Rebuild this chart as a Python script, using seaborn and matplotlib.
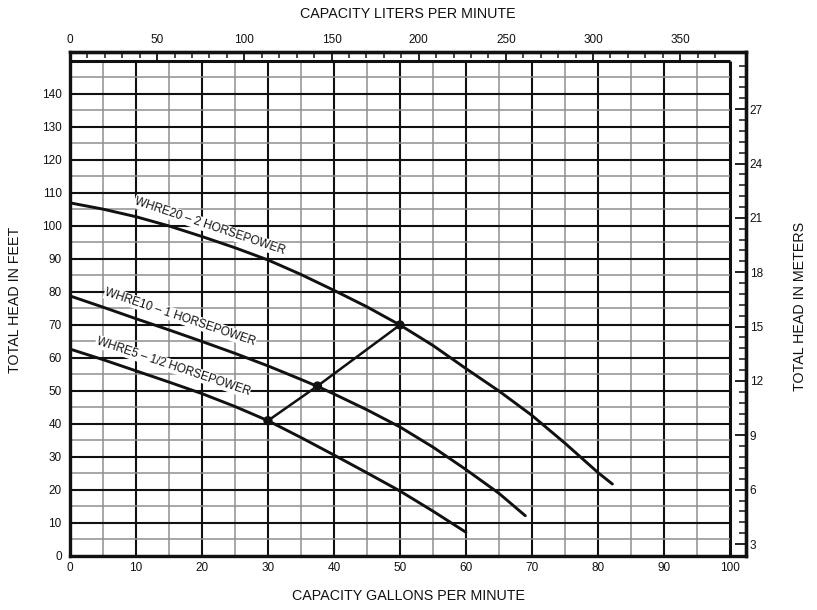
import numpy as np
import pandas as pd
import seaborn as sns
import matplotlib
matplotlib.use("Agg")
import matplotlib.pyplot as plt
from matplotlib.ticker import FixedLocator

sns.set_theme(style="white")
plt.rcParams['font.family'] = ['Liberation Sans', 'DejaVu Sans']

# ---- data ----
whre20_gpm = [0, 5, 10, 15, 20, 25, 30, 35, 40, 45, 50, 55, 60, 65, 70, 75, 80, 82.2]
whre20_head = [107, 105.1, 102.8, 100, 96.8, 93.4, 89.7, 85.3, 80.5, 75.5, 70, 63.8, 56.8, 50, 42.6, 34.2, 25.3, 21.8]
whre10_gpm = [0, 5, 10, 15, 20, 25, 30, 35, 37.5, 40, 45, 50, 55, 60, 65, 69]
whre10_head = [78.8, 75.4, 71.9, 68.5, 65, 61.4, 57.6, 53.5, 51.4, 49.1, 44.3, 39.1, 33.0, 26.2, 19.0, 12.2]
whre5_gpm = [0, 5, 10, 15, 20, 25, 30, 35, 40, 45, 50, 55, 60]
whre5_head = [62.7, 59.5, 56.1, 52.7, 49.2, 45.3, 41, 35.9, 30.6, 25.2, 19.7, 13.6, 7.2]
op_gpm = [30, 37.5, 50]
op_head = [41, 51.5, 70]
curve_labels = ["WHRE20 – 2 HORSEPOWER", "WHRE10 – 1 HORSEPOWER", "WHRE5 – 1/2 HORSEPOWER"]
x_ticks = list(range(0, 101, 10))
y_ticks = list(range(0, 141, 10))
lpm_ticks = list(range(0, 351, 50))
m_ticks = list(range(3, 28, 3))

df = pd.concat([
    pd.DataFrame({"gpm": whre20_gpm, "head": whre20_head, "model": "WHRE20"}),
    pd.DataFrame({"gpm": whre10_gpm, "head": whre10_head, "model": "WHRE10"}),
    pd.DataFrame({"gpm": whre5_gpm, "head": whre5_head, "model": "WHRE5"}),
])
op = pd.DataFrame({"gpm": op_gpm, "head": op_head})

W, H = 817, 610
fig = plt.figure(figsize=(W / 100, H / 100), dpi=100)
left_px, right_px, top_px, bot_px = 70, 745.7, 51.7, 556
ax = fig.add_axes([left_px / W, (H - bot_px) / H, (right_px - left_px) / W, (bot_px - top_px) / H])
ax.set_xlim(0, 102.4)
ax.set_ylim(0, 152.8)

# grid
for v in range(0, 101, 5):
    heavy = v % 10 == 0
    ax.vlines(v, 0, 150, color="#111111" if heavy else "#8f8f8f",
              lw=(2.2 if v == 100 else 1.5) if heavy else 1.1, zorder=1)
for h in range(0, 151, 5):
    heavy = h % 10 == 0
    ax.hlines(h, 0, 100, color="#111111" if heavy else "#8f8f8f",
              lw=(2.2 if h == 150 else 1.5) if heavy else 1.1, zorder=1)

# curves
sns.lineplot(data=df, x="gpm", y="head", units="model", estimator=None, sort=False,
             color="#111111", lw=2.1, ax=ax, zorder=3)
sns.lineplot(data=op, x="gpm", y="head", estimator=None, sort=False,
             color="#111111", lw=1.8, ax=ax, zorder=3)
sns.scatterplot(data=op, x="gpm", y="head", color="#111111", s=45, ax=ax, zorder=4, edgecolor="none")

label_pos = [(21.2, 99.9), (16.7, 72.4), (15.6, 57.4)]
for txt, (lx, ly) in zip(curve_labels, label_pos):
    ax.text(lx, ly, txt, rotation=-18.5, rotation_mode="anchor", ha="center", va="center",
            fontsize=8.5, color="#111111", zorder=5,
            bbox=dict(facecolor="white", edgecolor="none", pad=0.5))

# main axes ticks
ax.set_xticks(x_ticks)
ax.set_yticks(y_ticks)
ax.tick_params(axis="both", length=0, labelsize=8.5, colors="#111111")
ax.tick_params(axis="x", pad=4)
ax.tick_params(axis="y", pad=6)
ax.set_xlabel("")
ax.set_ylabel("")
for s in ax.spines.values():
    s.set_visible(True)
    s.set_color("#111111")
    s.set_linewidth(2.4)

# top liters axis
top = ax.secondary_xaxis("top", functions=(lambda g: g * 3.785, lambda l: l / 3.785))
top.xaxis.set_major_locator(FixedLocator(lpm_ticks))
top.xaxis.set_minor_locator(FixedLocator([v for v in range(10, 371, 10) if v % 50 != 0]))
top.tick_params(axis="x", which="major", direction="in", length=7, width=1.3, labelsize=8.5, pad=4, colors="#111111")
top.tick_params(axis="x", which="minor", direction="in", length=4, width=1.2)
top.spines["top"].set_linewidth(2.4)

# right meters axis (scale as printed on the chart)
def ft2m(f):
    return 3 + (np.asarray(f) - 3.63) / 5.49

def m2ft(m):
    return 3.63 + (np.asarray(m) - 3) * 5.49

right = ax.secondary_yaxis("right", functions=(ft2m, m2ft))
right.yaxis.set_major_locator(FixedLocator(m_ticks))
minor_m = [round(3 + 0.6 * k, 1) for k in range(1, 45) if k % 5 != 0]
right.yaxis.set_minor_locator(FixedLocator(minor_m))
right.tick_params(axis="y", which="major", direction="in", length=8, width=1.3, labelsize=8.5, pad=3, colors="#111111")
right.tick_params(axis="y", which="minor", direction="in", length=5, width=1.2)
right.spines["right"].set_linewidth(2.4)

# axis titles
fs = 10.3
fig.text(408 / W, 1 - 14 / H, "CAPACITY LITERS PER MINUTE", ha="center", va="center", fontsize=fs, color="#111111")
fig.text(408 / W, 1 - 596 / H, "CAPACITY GALLONS PER MINUTE", ha="center", va="center", fontsize=fs, color="#111111")
fig.text(15 / W, 1 - 300 / H, "TOTAL HEAD IN FEET", rotation=90, ha="center", va="center", fontsize=fs, color="#111111")
fig.text(800 / W, 1 - 306 / H, "TOTAL HEAD IN METERS", rotation=90, ha="center", va="center", fontsize=fs, color="#111111")

fig.savefig("out.png", dpi=100, facecolor="white")
